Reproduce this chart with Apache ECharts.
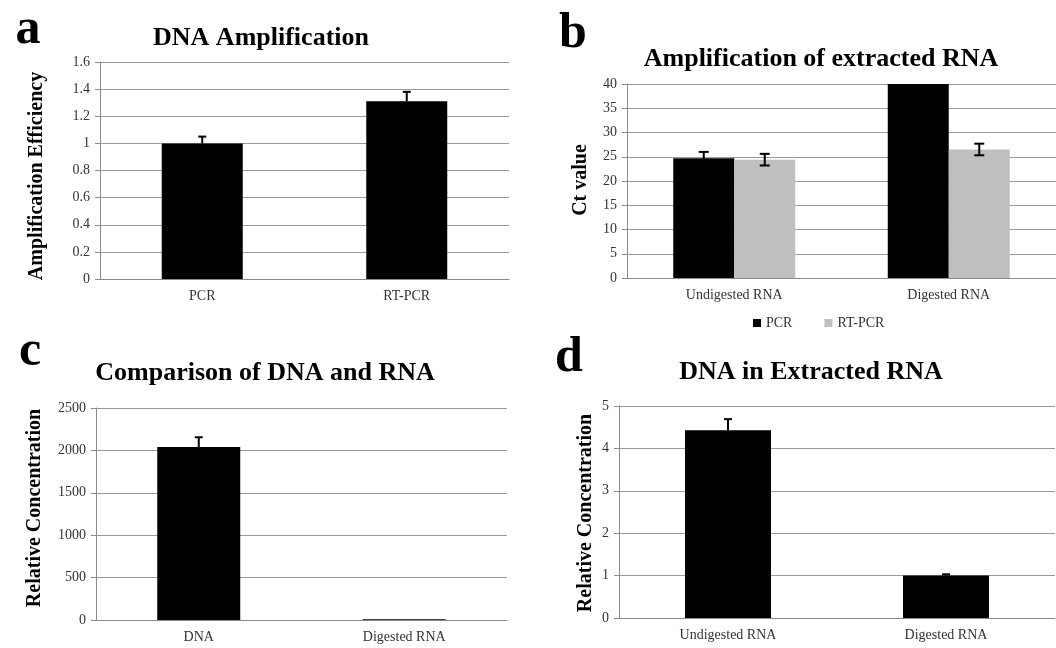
<!DOCTYPE html>
<html>
<head>
<meta charset="utf-8">
<script src="https://cdn.jsdelivr.net/npm/echarts@6/dist/echarts.min.js"></script>
<style>
  html, body { margin: 0; padding: 0; background: #fff; }
  #main { width: 1056px; height: 648px; }
</style>
</head>
<body>
<div id="main"></div>
<script>
// a: DNA Amplification
const catsA = ['PCR', 'RT-PCR'];
const effA = [1.0, 1.31];
const errA = [0.05, 0.07];

// b: Amplification of extracted RNA
const catsB = ['Undigested RNA', 'Digested RNA'];
const ctPcr = [24.7, 40];
const ctPcrErr = [1.3, 0];
const ctRt = [24.4, 26.5];
const ctRtErr = [1.2, 1.2];

// c: Comparison of DNA and RNA
const catsC = ['DNA', 'Digested RNA'];
const concC = [2040, 8];
const errC = [115, 0];

// d: DNA in Extracted RNA
const catsD = ['Undigested RNA', 'Digested RNA'];
const concD = [4.43, 1.0];
const errD = [0.26, 0.03];

const serif = 'Liberation Serif';
const axisGrey = '#8a8a8a';

const xAx = (i, data) => ({
  type: 'category', gridIndex: i, data: data,
  axisLine: { lineStyle: { color: axisGrey } },
  axisTick: { length: 5, lineStyle: { color: axisGrey } },
  axisLabel: { color: '#333', fontFamily: serif, fontSize: 14, margin: 10 }
});

const yAx = (i, max, interval) => ({
  type: 'value', gridIndex: i, min: 0, max: max, interval: interval,
  axisLine: { show: true, lineStyle: { color: axisGrey } },
  axisTick: { show: true, length: 5, lineStyle: { color: axisGrey } },
  axisLabel: { color: '#333', fontFamily: serif, fontSize: 14, margin: 10, formatter: (v) => String(+v.toFixed(2)) },
  splitLine: { lineStyle: { color: '#9a9a9a' } }
});

// error bar drawn through the axes: offset shifts it onto a grouped bar
const errBar = (offset, both, cap) => (params, api) => {
  const e = api.value(2);
  if (!e) return null;
  const x = api.value(0);
  const v = api.value(1);
  const hi = api.coord([x, v + e]);
  const lo = api.coord([x, both ? v - e : v]);
  const cx = hi[0] + offset;
  const style = { stroke: '#000', lineWidth: 2 };
  const children = [
    { type: 'line', shape: { x1: cx, y1: hi[1], x2: cx, y2: lo[1] }, style: style },
    { type: 'line', shape: { x1: cx - cap / 2, y1: hi[1], x2: cx + cap / 2, y2: hi[1] }, style: style }
  ];
  if (both) {
    children.push({ type: 'line', shape: { x1: cx - cap / 2, y1: lo[1], x2: cx + cap / 2, y2: lo[1] }, style: style });
  }
  return { type: 'group', children: children };
};

const errData = (vals, errs) => vals.map((v, i) => [i, v, errs[i]]);

const label = (x, y, text, size) => ({
  type: 'text', x: x, y: y,
  style: { text: text, font: 'bold ' + size + 'px "' + serif + '"', fill: '#000', align: 'center', verticalAlign: 'middle' }
});

const yName = (x, y, text) => ({
  type: 'text', x: x, y: y, rotation: Math.PI / 2,
  style: { text: text, font: 'bold 20px "' + serif + '"', fill: '#000', align: 'center', verticalAlign: 'middle' }
});

const chart = echarts.init(document.getElementById('main'));

chart.setOption({
  backgroundColor: '#fff',
  animation: false,
  grid: [
    { left: 100, top: 62, width: 409, height: 217 },
    { left: 627, top: 84, width: 429, height: 194 },
    { left: 96, top: 408, width: 411, height: 212 },
    { left: 619, top: 406, width: 436, height: 212 }
  ],
  xAxis: [xAx(0, catsA), xAx(1, catsB), xAx(2, catsC), xAx(3, catsD)],
  yAxis: [yAx(0, 1.6, 0.2), yAx(1, 40, 5), yAx(2, 2500, 500), yAx(3, 5, 1)],
  legend: {
    data: ['PCR', 'RT-PCR'],
    left: 748, top: 311,
    icon: 'rect', itemWidth: 8, itemHeight: 8, itemGap: 32,
    textStyle: { fontFamily: serif, fontSize: 14, color: '#333' }
  },
  graphic: [
    label(28, 30, 'a', 50),
    label(261, 38, 'DNA Amplification', 26),
    yName(37, 176, 'Amplification Efficiency'),
    label(573, 34, 'b', 50),
    label(821, 59, 'Amplification of extracted RNA', 26),
    yName(581, 180, 'Ct value'),
    label(30, 352, 'c', 50),
    label(265, 373, 'Comparison of DNA and RNA', 26),
    yName(35, 508, 'Relative Concentration'),
    label(569, 358, 'd', 50),
    label(811, 372, 'DNA in Extracted RNA', 26),
    yName(586, 513, 'Relative Concentration')
  ],
  series: [
    { name: 'Efficiency', type: 'bar', xAxisIndex: 0, yAxisIndex: 0, data: effA, barWidth: 81, itemStyle: { color: '#000' } },
    { type: 'custom', xAxisIndex: 0, yAxisIndex: 0, data: errData(effA, errA), renderItem: errBar(0, false, 8), encode: { x: 0, y: 1 }, z: 5 },

    { name: 'PCR', type: 'bar', xAxisIndex: 1, yAxisIndex: 1, data: ctPcr, barWidth: 61, barGap: '0%', itemStyle: { color: '#000' } },
    { name: 'RT-PCR', type: 'bar', xAxisIndex: 1, yAxisIndex: 1, data: ctRt, barWidth: 61, barGap: '0%', itemStyle: { color: '#bfbfbf' } },
    { type: 'custom', xAxisIndex: 1, yAxisIndex: 1, data: errData(ctPcr, ctPcrErr), renderItem: errBar(-30.5, true, 10), encode: { x: 0, y: 1 }, z: 5 },
    { type: 'custom', xAxisIndex: 1, yAxisIndex: 1, data: errData(ctRt, ctRtErr), renderItem: errBar(30.5, true, 10), encode: { x: 0, y: 1 }, z: 5 },

    { name: 'Concentration', type: 'bar', xAxisIndex: 2, yAxisIndex: 2, data: concC, barWidth: 83, itemStyle: { color: '#000' } },
    { type: 'custom', xAxisIndex: 2, yAxisIndex: 2, data: errData(concC, errC), renderItem: errBar(0, false, 8), encode: { x: 0, y: 1 }, z: 5 },

    { name: 'DNA', type: 'bar', xAxisIndex: 3, yAxisIndex: 3, data: concD, barWidth: 86, itemStyle: { color: '#000' } },
    { type: 'custom', xAxisIndex: 3, yAxisIndex: 3, data: errData(concD, errD), renderItem: errBar(0, false, 8), encode: { x: 0, y: 1 }, z: 5 }
  ]
});
</script>
</body>
</html>
